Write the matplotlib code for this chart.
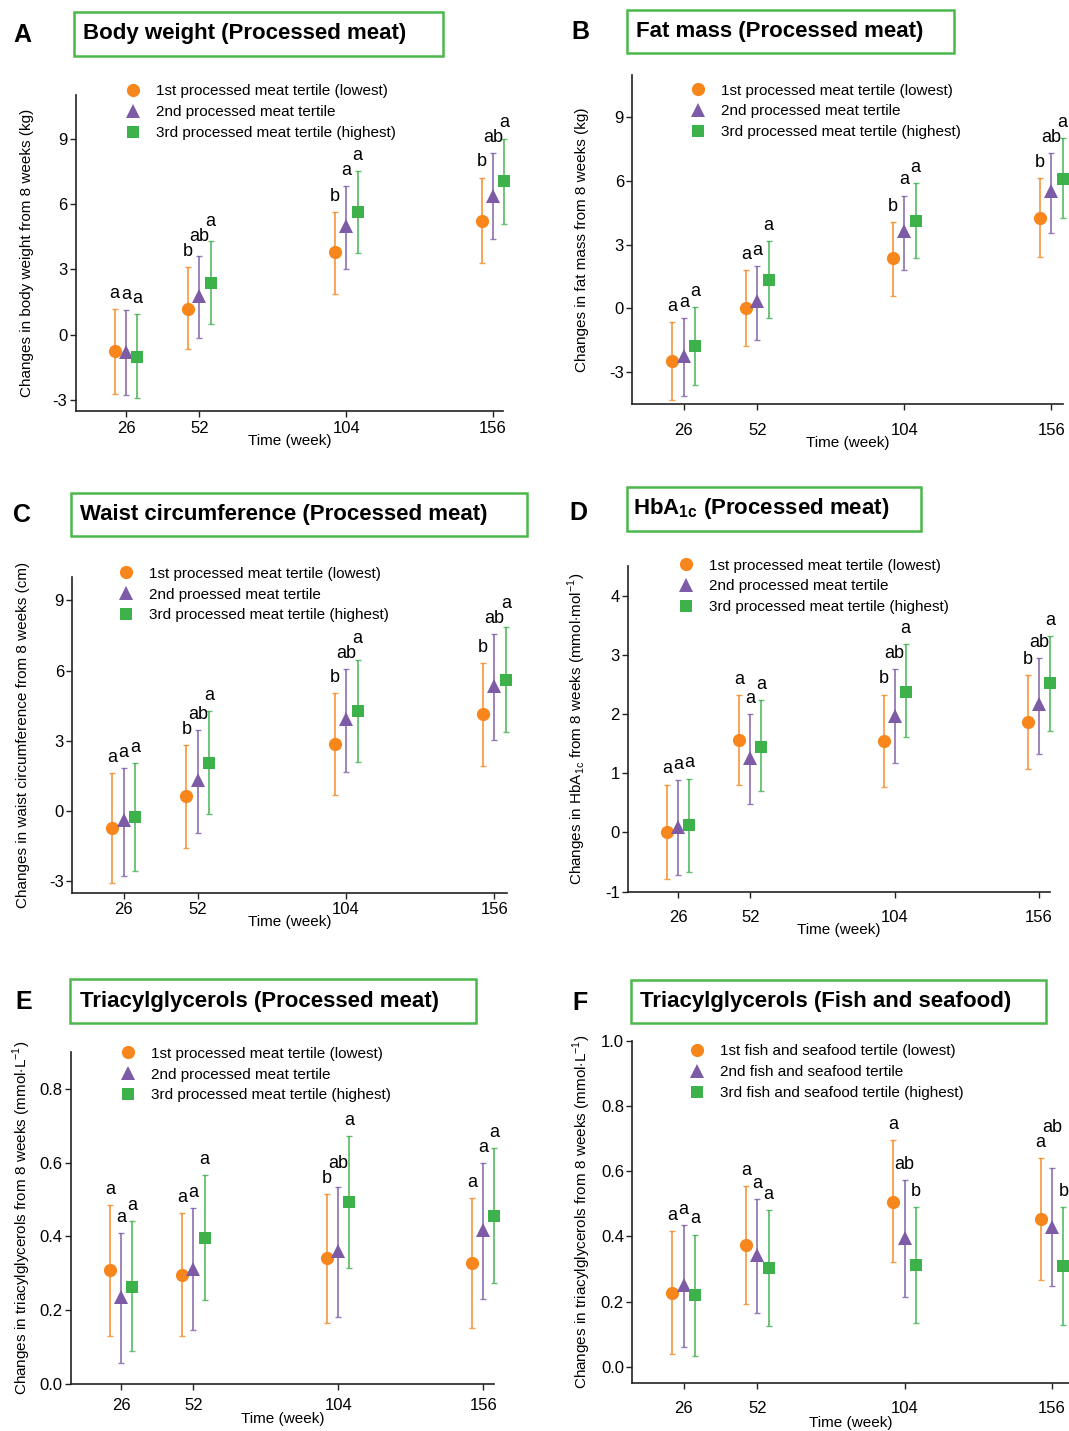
import matplotlib
matplotlib.use("Agg")
import matplotlib.pyplot as plt
from matplotlib.patches import Rectangle
import numpy as np

plt.rcParams['font.family'] = ['Liberation Sans', 'DejaVu Sans']
plt.rcParams['mathtext.fontset'] = 'custom'
plt.rcParams['mathtext.rm'] = 'Liberation Sans'

# ---------------- data ----------------
weeks = [26, 52, 104, 156]
week_labels = ["26", "52", "104", "156"]

# A: body weight (kg)
bw_t1 = [-0.76, 1.20, 3.79, 5.23]
bw_t1_lo = [-2.74, -0.65, 1.89, 3.30]
bw_t1_hi = [1.18, 3.10, 5.64, 7.21]
bw_t2 = [-0.80, 1.77, 4.98, 6.38]
bw_t2_lo = [-2.75, -0.15, 3.02, 4.37]
bw_t2_hi = [1.12, 3.59, 6.82, 8.34]
bw_t3 = [-1.02, 2.39, 5.61, 7.04]
bw_t3_lo = [-2.89, 0.51, 3.73, 5.06]
bw_t3_hi = [0.95, 4.28, 7.51, 8.97]
bw_letters = [["a", "b", "b", "b"], ["a", "ab", "a", "ab"], ["a", "a", "a", "a"]]

# B: fat mass (kg)
fm_t1 = [-2.48, 0.01, 2.36, 4.28]
fm_t1_lo = [-4.32, -1.78, 0.60, 2.42]
fm_t1_hi = [-0.62, 1.79, 4.08, 6.13]
fm_t2 = [-2.25, 0.34, 3.64, 5.52]
fm_t2_lo = [-4.13, -1.50, 1.79, 3.56]
fm_t2_hi = [-0.45, 2.01, 5.32, 7.34]
fm_t3 = [-1.75, 1.35, 4.11, 6.10]
fm_t3_lo = [-3.60, -0.43, 2.37, 4.28]
fm_t3_hi = [0.07, 3.19, 5.90, 8.01]
fm_letters = [["a", "a", "b", "b"], ["a", "a", "a", "ab"], ["a", "a", "a", "a"]]

# C: waist circumference (cm)
wc_t1 = [-0.74, 0.62, 2.86, 4.13]
wc_t1_lo = [-3.10, -1.59, 0.69, 1.91]
wc_t1_hi = [1.63, 2.82, 5.03, 6.32]
wc_t2 = [-0.41, 1.31, 3.93, 5.36]
wc_t2_lo = [-2.79, -0.94, 1.67, 3.05]
wc_t2_hi = [1.83, 3.45, 6.07, 7.55]
wc_t3 = [-0.25, 2.05, 4.27, 5.60]
wc_t3_lo = [-2.56, -0.14, 2.08, 3.39]
wc_t3_hi = [2.05, 4.26, 6.47, 7.85]
wc_letters = [["a", "b", "b", "b"], ["a", "ab", "ab", "ab"], ["a", "a", "a", "a"]]

# D: HbA1c (mmol/mol)
hb_t1 = [0.01, 1.56, 1.55, 1.86]
hb_t1_lo = [-0.79, 0.80, 0.77, 1.07]
hb_t1_hi = [0.81, 2.32, 2.33, 2.66]
hb_t2 = [0.10, 1.26, 1.97, 2.17]
hb_t2_lo = [-0.71, 0.48, 1.17, 1.33]
hb_t2_hi = [0.89, 2.00, 2.76, 2.95]
hb_t3 = [0.12, 1.45, 2.38, 2.52]
hb_t3_lo = [-0.67, 0.70, 1.61, 1.71]
hb_t3_hi = [0.91, 2.23, 3.18, 3.31]
hb_letters = [["a", "a", "b", "b"], ["a", "a", "ab", "ab"], ["a", "a", "a", "a"]]

# E: triacylglycerols, processed meat (mmol/L)
tgp_t1 = [0.310, 0.297, 0.342, 0.328]
tgp_t1_lo = [0.132, 0.130, 0.167, 0.151]
tgp_t1_hi = [0.486, 0.464, 0.515, 0.503]
tgp_t2 = [0.237, 0.313, 0.361, 0.417]
tgp_t2_lo = [0.057, 0.146, 0.183, 0.230]
tgp_t2_hi = [0.410, 0.477, 0.535, 0.599]
tgp_t3 = [0.264, 0.397, 0.493, 0.455]
tgp_t3_lo = [0.091, 0.228, 0.316, 0.275]
tgp_t3_hi = [0.442, 0.566, 0.671, 0.640]
tgp_letters = [["a", "a", "b", "a"], ["a", "a", "ab", "a"], ["a", "a", "a", "a"]]

# F: triacylglycerols, fish and seafood (mmol/L)
tgf_t1 = [0.228, 0.374, 0.507, 0.454]
tgf_t1_lo = [0.039, 0.192, 0.323, 0.266]
tgf_t1_hi = [0.417, 0.555, 0.695, 0.639]
tgf_t2 = [0.252, 0.344, 0.395, 0.430]
tgf_t2_lo = [0.062, 0.165, 0.214, 0.249]
tgf_t2_hi = [0.434, 0.516, 0.572, 0.609]
tgf_t3 = [0.220, 0.302, 0.312, 0.309]
tgf_t3_lo = [0.035, 0.127, 0.135, 0.129]
tgf_t3_hi = [0.406, 0.480, 0.490, 0.490]
tgf_letters = [["a", "a", "a", "a"], ["a", "a", "ab", "ab"], ["a", "a", "b", "b"]]

pm_labels = ["1st processed meat tertile (lowest)", "2nd processed meat tertile",
             "3rd processed meat tertile (highest)"]
pm_labels_c = ["1st processed meat tertile (lowest)", "2nd proessed meat tertile",
               "3rd processed meat tertile (highest)"]
fish_labels = ["1st fish and seafood tertile (lowest)", "2nd fish and seafood tertile",
               "3rd fish and seafood tertile (highest)"]

# ---------------- style ----------------
W, H = 1069, 1431
fig = plt.figure(figsize=(W / 100, H / 100), dpi=100)

colors = ["#F7861C", "#7D5BA6", "#3DB14A"]
markers = ["o", "^", "s"]
msizes = [9.5, 10, 8.5]
offsets = [-4, 0, 4]
box_color = "#4CB84A"


def rect(l, r, t, b):
    return [l / W, 1 - b / H, (r - l) / W, (b - t) / H]


panels = [
    dict(letter="A", title="Body weight (Processed meat)",
         data=[(bw_t1, bw_t1_lo, bw_t1_hi), (bw_t2, bw_t2_lo, bw_t2_hi), (bw_t3, bw_t3_lo, bw_t3_hi)],
         letters=bw_letters, labels=pm_labels,
         ylabel="Changes in body weight from 8 weeks (kg)",
         pos=(75.7, 503, 95, 411), xlim=(8.2, 159.5), ylim=(-3.5, 11),
         yticks=[-3, 0, 3, 6, 9], yfmt="{:g}", xpad=3.0, xlab_y=23,
         box=(74, 443, 12, 56), tx=83, lpos=(22, 35), leg=(132.7, 91), ylx=27),
    dict(letter="B", title="Fat mass (Processed meat)",
         data=[(fm_t1, fm_t1_lo, fm_t1_hi), (fm_t2, fm_t2_lo, fm_t2_hi), (fm_t3, fm_t3_lo, fm_t3_hi)],
         letters=fm_letters, labels=pm_labels,
         ylabel="Changes in fat mass from 8 weeks (kg)",
         pos=(632.3, 1062.7, 75, 404), xlim=(7.8, 160), ylim=(-4.5, 11),
         yticks=[-3, 0, 3, 6, 9], yfmt="{:g}", xpad=9.5, xlab_y=32,
         box=(626.5, 954, 10, 53), tx=636, lpos=(580, 32), leg=(697.7, 90), ylx=581.7),
    dict(letter="C", title="Waist circumference (Processed meat)",
         data=[(wc_t1, wc_t1_lo, wc_t1_hi), (wc_t2, wc_t2_lo, wc_t2_hi), (wc_t3, wc_t3_lo, wc_t3_hi)],
         letters=wc_letters, labels=pm_labels_c,
         ylabel="Changes in waist circumference from 8 weeks (cm)",
         pos=(72.3, 506.7, 577, 892.7), xlim=(8, 160.3), ylim=(-3.5, 10),
         yticks=[-3, 0, 3, 6, 9], yfmt="{:g}", xpad=2.8, xlab_y=22,
         box=(71, 527, 493, 536), tx=80, lpos=(22, 515), leg=(126, 573.3), ylx=23.3),
    dict(letter="D", title="HbA$_{\\mathregular{1c}}$ (Processed meat)",
         data=[(hb_t1, hb_t1_lo, hb_t1_hi), (hb_t2, hb_t2_lo, hb_t2_hi), (hb_t3, hb_t3_lo, hb_t3_hi)],
         letters=hb_letters, labels=pm_labels,
         ylabel="Changes in HbA$_{\\mathregular{1c}}$ from 8 weeks (mmol$\\cdot$mol$^{\\mathregular{-1}}$)",
         pos=(628.3, 1050, 566, 891.7), xlim=(8, 160), ylim=(-1, 4.5),
         yticks=[-1, 0, 1, 2, 3, 4], yfmt="{:g}", xpad=9.5, xlab_y=31,
         box=(626.7, 920.7, 486.7, 530.7), tx=633.3, lpos=(578, 513), leg=(686, 565), ylx=576.7),
    dict(letter="E", title="Triacylglycerols (Processed meat)",
         data=[(tgp_t1, tgp_t1_lo, tgp_t1_hi), (tgp_t2, tgp_t2_lo, tgp_t2_hi), (tgp_t3, tgp_t3_lo, tgp_t3_hi)],
         letters=tgp_letters, labels=pm_labels,
         ylabel="Changes in triacylglycerols from 8 weeks (mmol$\\cdot$L$^{\\mathregular{-1}}$)",
         pos=(71, 494.3, 1051.7, 1384.3), xlim=(8.06, 160), ylim=(0, 0.9),
         yticks=[0, 0.2, 0.4, 0.6, 0.8], yfmt="{:.1f}", xpad=6.0, xlab_y=28,
         box=(70, 476, 979.3, 1022.7), tx=80, lpos=(24, 1001.7), leg=(128.3, 1053.3), ylx=21.7),
    dict(letter="F", title="Triacylglycerols (Fish and seafood)",
         data=[(tgf_t1, tgf_t1_lo, tgf_t1_hi), (tgf_t2, tgf_t2_lo, tgf_t2_hi), (tgf_t3, tgf_t3_lo, tgf_t3_hi)],
         letters=tgf_letters, labels=fish_labels,
         ylabel="Changes in triacylglycerols from 8 weeks (mmol$\\cdot$L$^{\\mathregular{-1}}$)",
         pos=(632.3, 1069, 1040.7, 1383.3), xlim=(7.9, 162), ylim=(-0.05, 1.0),
         yticks=[0, 0.2, 0.4, 0.6, 0.8, 1.0], yfmt="{:.1f}", xpad=9.0, xlab_y=33,
         box=(631, 1046, 980, 1023), tx=640, lpos=(580, 1003), leg=(697.3, 1051), ylx=581.7),
]

FS = 11
TFS = 12
BASE_OFF = 8  # points above the upper whisker
letter_groups = []
for p in panels:
    l, r, t, b = p["pos"]
    ax = fig.add_axes(rect(l, r, t, b))
    handles = []
    groups = [[] for _ in weeks]
    for i, (m, lo, hi) in enumerate(p["data"]):
        x = np.array(weeks, dtype=float) + offsets[i]
        m = np.array(m)
        lo = np.array(lo)
        hi = np.array(hi)
        eb = ax.errorbar(x, m, yerr=[m - lo, hi - m], fmt="none", ecolor=colors[i], alpha=0.8,
                         elinewidth=1.3, capsize=2.5, capthick=1.0, zorder=2)
        for c in eb.get_children():
            c.set_clip_on(False)
        h, = ax.plot(x, m, linestyle="none", marker=markers[i], markersize=msizes[i],
                     color=colors[i], markeredgewidth=0, zorder=3, label=p["labels"][i],
                     clip_on=False)
        handles.append(h)
        for j, (xi, hv, lt) in enumerate(zip(x, hi, p["letters"][i])):
            ann = ax.annotate(lt, (xi, hv), xytext=(0, BASE_OFF), textcoords="offset points",
                              ha="center", va="baseline", fontsize=13, color="black",
                              annotation_clip=False)
            groups[j].append(ann)
    letter_groups.extend(groups)
    ax.set_xlim(*p["xlim"])
    ax.set_ylim(*p["ylim"])
    ax.set_xticks(weeks)
    ax.set_xticklabels(week_labels)
    ax.set_yticks(p["yticks"])
    ax.set_yticklabels([p["yfmt"].format(v) for v in p["yticks"]])
    for s in ["top", "right"]:
        ax.spines[s].set_visible(False)
    for s in ["left", "bottom"]:
        ax.spines[s].set_linewidth(1.2)
        ax.spines[s].set_color("#222222")
    ax.tick_params(axis="x", length=4, width=1.0, labelsize=TFS, pad=p["xpad"], color="#222222")
    ax.tick_params(axis="y", length=4, width=1.0, labelsize=TFS, pad=2, color="#222222")
    ah = b - t
    aw = r - l
    ax.set_xlabel("Time (week)", fontsize=FS)
    ax.xaxis.set_label_coords(0.5, -p["xlab_y"] / ah)
    ax.set_ylabel(p["ylabel"], fontsize=FS)
    ax.yaxis.set_label_coords((p["ylx"] - l) / aw, 0.5)
    ax.yaxis.label.set_va("center")
    # legend
    mx, my = p["leg"]
    fs_px = FS * 100 / 72
    ax.legend(handles=handles, loc="upper left", frameon=False, fontsize=FS,
              handlelength=1.0, handletextpad=1.0, labelspacing=0.44, borderpad=0,
              borderaxespad=0, numpoints=1,
              bbox_to_anchor=((mx - 0.5 * fs_px) / W, 1 - (my - 6.5) / H),
              bbox_transform=fig.transFigure)
    # title box
    bl, br, bt, bb = p["box"]
    fig.patches.append(Rectangle((bl / W, 1 - bb / H), (br - bl) / W, (bb - bt) / H,
                                 transform=fig.transFigure, fill=False,
                                 edgecolor=box_color, linewidth=1.8))
    fig.text(p["tx"] / W, 1 - ((bt + bb) / 2) / H, p["title"], fontsize=16, fontweight="bold",
             ha="left", va="center")
    lx, ly = p["lpos"]
    fig.text(lx / W, 1 - ly / H, p["letter"], fontsize=18, fontweight="bold",
             ha="center", va="center")

# staircase the significance letters of a time point so they do not collide
fig.canvas.draw()
renderer = fig.canvas.get_renderer()
for grp in letter_groups:
    for k in range(1, len(grp)):
        for _ in range(10):
            bk = grp[k].get_window_extent(renderer)
            moved = False
            for q in range(k):
                bq = grp[q].get_window_extent(renderer)
                if bk.x0 < bq.x1 - 1 and bk.x1 > bq.x0 + 1 and bk.y0 < bq.y1 - 3 and bk.y1 > bq.y0 + 3:
                    dy_px = (bq.y1 - 3) - bk.y0 + 1
                    ox, oy = grp[k].xyann
                    grp[k].xyann = (ox, oy + dy_px * 72 / 100)
                    moved = True
                    break
            if not moved:
                break

fig.savefig("out.png", dpi=100)
